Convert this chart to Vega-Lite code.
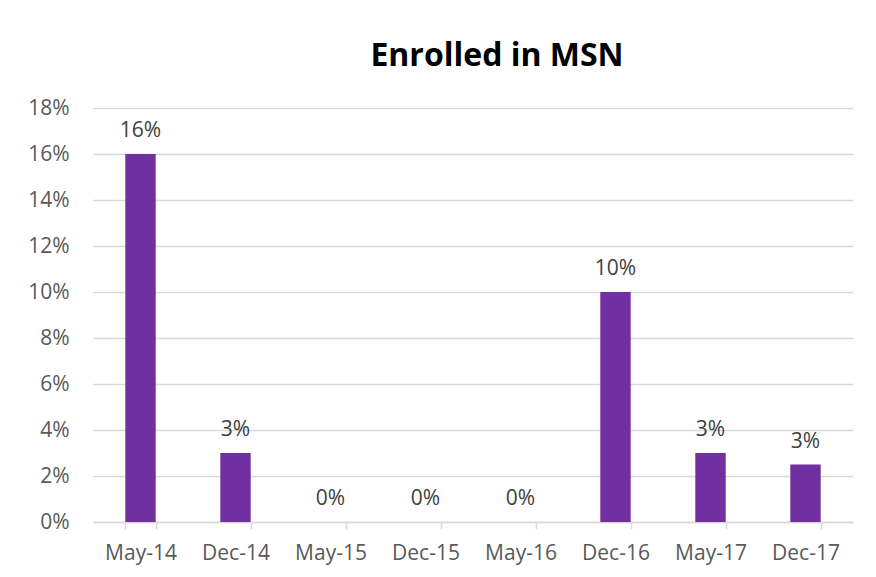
{
  "$schema": "https://vega.github.io/schema/vega-lite/v6.json",
  "autosize": {"type": "none"},
  "width": 760,
  "height": 414,
  "padding": {"left": 93, "top": 108, "right": 23, "bottom": 55},
  "background": "white",
  "title": {
    "text": "Enrolled in MSN",
    "font": "Open Sans",
    "fontSize": 32,
    "fontWeight": "bold",
    "color": "#000000",
    "anchor": "middle",
    "baseline": "alphabetic",
    "dx": 24,
    "offset": -1
  },
  "data": {
    "values": [
      {"period": "May-14", "value": 0.16},
      {"period": "Dec-14", "value": 0.03},
      {"period": "May-15", "value": 0.0},
      {"period": "Dec-15", "value": 0.0},
      {"period": "May-16", "value": 0.0},
      {"period": "Dec-16", "value": 0.10},
      {"period": "May-17", "value": 0.03},
      {"period": "Dec-17", "value": 0.025}
    ]
  },
  "encoding": {
    "x": {
      "field": "period",
      "type": "nominal",
      "sort": null,
      "scale": {"paddingInner": 0.68, "paddingOuter": 0.34},
      "axis": {
        "title": null,
        "labelAngle": 0,
        "labelFont": "Open Sans",
        "labelFontSize": 21,
        "labelColor": "#595959",
        "labelPadding": 13,
        "domainColor": "#d9d9d9",
        "domainWidth": 1.5,
        "tickColor": "#d9d9d9",
        "tickWidth": 1.5,
        "tickSize": 7,
        "tickBand": "extent",
        "grid": false
      }
    },
    "y": {
      "field": "value",
      "type": "quantitative",
      "scale": {"domain": [0, 0.18]},
      "axis": {
        "title": null,
        "format": ".0%",
        "values": [0, 0.02, 0.04, 0.06, 0.08, 0.1, 0.12, 0.14, 0.16, 0.18],
        "labelFont": "Open Sans",
        "labelFontSize": 21,
        "labelColor": "#595959",
        "labelPadding": 24,
        "domain": false,
        "ticks": false,
        "grid": true,
        "gridColor": "#d9d9d9",
        "gridWidth": 1.5
      }
    }
  },
  "layer": [
    {"mark": {"type": "bar", "color": "#7030A0"}},
    {
      "mark": {"type": "text", "baseline": "alphabetic", "dy": -17, "font": "Open Sans", "fontSize": 21, "color": "#404040"},
      "encoding": {"text": {"field": "value", "type": "quantitative", "format": ".0%"}}
    }
  ],
  "config": {"view": {"stroke": null}}
}
